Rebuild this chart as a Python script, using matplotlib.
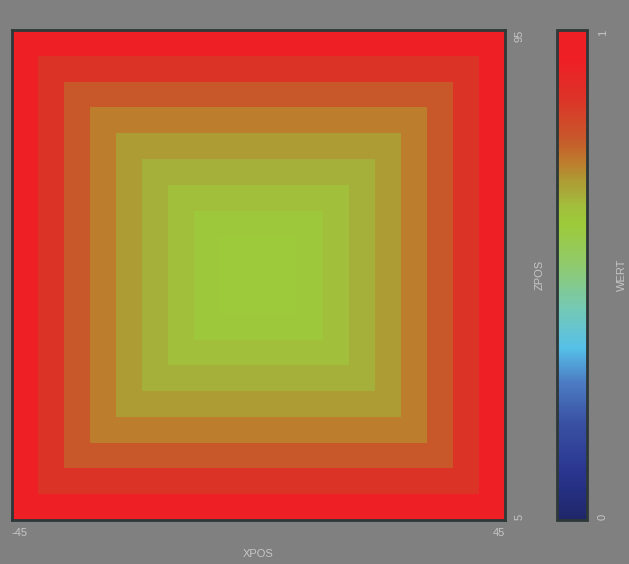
import numpy as np
import matplotlib
matplotlib.use("Agg")
import matplotlib.pyplot as plt
from matplotlib.colors import LinearSegmentedColormap

# Grid coordinates
xpos = [-45, -40, -35, -30, -25, -20, -15, -10, -5, 0, 5, 10, 15, 20, 25, 30, 35, 40, 45]
zpos = [5, 10, 15, 20, 25, 30, 35, 40, 45, 50, 55, 60, 65, 70, 75, 80, 85, 90, 95]

# Measured values (rows: zpos from 5 up to 95, columns: xpos from -45 to 45)
wert = [
    [1.00, 1.00, 1.00, 1.00, 1.00, 1.00, 1.00, 1.00, 1.00, 1.00, 1.00, 1.00, 1.00, 1.00, 1.00, 1.00, 1.00, 1.00, 1.00],
    [1.00, 0.86, 0.86, 0.86, 0.86, 0.86, 0.86, 0.86, 0.86, 0.86, 0.86, 0.86, 0.86, 0.86, 0.86, 0.86, 0.86, 0.86, 1.00],
    [1.00, 0.86, 0.78, 0.78, 0.78, 0.78, 0.78, 0.78, 0.78, 0.78, 0.78, 0.78, 0.78, 0.78, 0.78, 0.78, 0.78, 0.86, 1.00],
    [1.00, 0.86, 0.78, 0.73, 0.73, 0.73, 0.73, 0.73, 0.73, 0.73, 0.73, 0.73, 0.73, 0.73, 0.73, 0.73, 0.78, 0.86, 1.00],
    [1.00, 0.86, 0.78, 0.73, 0.69, 0.69, 0.69, 0.69, 0.69, 0.69, 0.69, 0.69, 0.69, 0.69, 0.69, 0.73, 0.78, 0.86, 1.00],
    [1.00, 0.86, 0.78, 0.73, 0.69, 0.66, 0.66, 0.66, 0.66, 0.66, 0.66, 0.66, 0.66, 0.66, 0.69, 0.73, 0.78, 0.86, 1.00],
    [1.00, 0.86, 0.78, 0.73, 0.69, 0.66, 0.64, 0.64, 0.64, 0.64, 0.64, 0.64, 0.64, 0.66, 0.69, 0.73, 0.78, 0.86, 1.00],
    [1.00, 0.86, 0.78, 0.73, 0.69, 0.66, 0.64, 0.61, 0.61, 0.61, 0.61, 0.61, 0.64, 0.66, 0.69, 0.73, 0.78, 0.86, 1.00],
    [1.00, 0.86, 0.78, 0.73, 0.69, 0.66, 0.64, 0.61, 0.60, 0.60, 0.60, 0.61, 0.64, 0.66, 0.69, 0.73, 0.78, 0.86, 1.00],
    [1.00, 0.86, 0.78, 0.73, 0.69, 0.66, 0.64, 0.61, 0.60, 0.60, 0.60, 0.61, 0.64, 0.66, 0.69, 0.73, 0.78, 0.86, 1.00],
    [1.00, 0.86, 0.78, 0.73, 0.69, 0.66, 0.64, 0.61, 0.60, 0.60, 0.60, 0.61, 0.64, 0.66, 0.69, 0.73, 0.78, 0.86, 1.00],
    [1.00, 0.86, 0.78, 0.73, 0.69, 0.66, 0.64, 0.61, 0.61, 0.61, 0.61, 0.61, 0.64, 0.66, 0.69, 0.73, 0.78, 0.86, 1.00],
    [1.00, 0.86, 0.78, 0.73, 0.69, 0.66, 0.64, 0.64, 0.64, 0.64, 0.64, 0.64, 0.64, 0.66, 0.69, 0.73, 0.78, 0.86, 1.00],
    [1.00, 0.86, 0.78, 0.73, 0.69, 0.66, 0.66, 0.66, 0.66, 0.66, 0.66, 0.66, 0.66, 0.66, 0.69, 0.73, 0.78, 0.86, 1.00],
    [1.00, 0.86, 0.78, 0.73, 0.69, 0.69, 0.69, 0.69, 0.69, 0.69, 0.69, 0.69, 0.69, 0.69, 0.69, 0.73, 0.78, 0.86, 1.00],
    [1.00, 0.86, 0.78, 0.73, 0.73, 0.73, 0.73, 0.73, 0.73, 0.73, 0.73, 0.73, 0.73, 0.73, 0.73, 0.73, 0.78, 0.86, 1.00],
    [1.00, 0.86, 0.78, 0.78, 0.78, 0.78, 0.78, 0.78, 0.78, 0.78, 0.78, 0.78, 0.78, 0.78, 0.78, 0.78, 0.78, 0.86, 1.00],
    [1.00, 0.86, 0.86, 0.86, 0.86, 0.86, 0.86, 0.86, 0.86, 0.86, 0.86, 0.86, 0.86, 0.86, 0.86, 0.86, 0.86, 0.86, 1.00],
    [1.00, 1.00, 1.00, 1.00, 1.00, 1.00, 1.00, 1.00, 1.00, 1.00, 1.00, 1.00, 1.00, 1.00, 1.00, 1.00, 1.00, 1.00, 1.00],
]

x_label = "XPOS"
z_label = "ZPOS"
c_label = "WERT"

BG = "#808080"
TXT = "#c6c6c6"
EDGE = "#2e3838"

cmap = LinearSegmentedColormap.from_list(
    "wert",
    [
        (0.00, "#1f266a"),
        (0.10, "#2a3690"),
        (0.20, "#3a52a3"),
        (0.28, "#4c7cc4"),
        (0.35, "#56c0e8"),
        (0.43, "#74c9b6"),
        (0.52, "#90ca6e"),
        (0.60, "#9dca3b"),
        (0.61, "#9dc93b"),
        (0.64, "#a2bf3c"),
        (0.66, "#a6b03a"),
        (0.69, "#ad9d34"),
        (0.73, "#bd7d2d"),
        (0.78, "#c8582b"),
        (0.86, "#dc3428"),
        (0.94, "#ee1f25"),
        (1.00, "#ee1f25"),
    ],
)

plt.rcParams["font.family"] = ["Liberation Sans", "DejaVu Sans"]

W, H = 629, 564
fig = plt.figure(figsize=(W / 100, H / 100), dpi=100, facecolor=BG)

ax = fig.add_axes([12 / W, (H - 520) / H, 493 / W, 490 / H])
ax.set_facecolor(BG)
data = np.array(wert)
dx = (xpos[1] - xpos[0]) / 2
dz = (zpos[1] - zpos[0]) / 2
extent = [xpos[0] - dx, xpos[-1] + dx, zpos[0] - dz, zpos[-1] + dz]
im = ax.imshow(data, cmap=cmap, vmin=0, vmax=1, origin="lower",
               extent=extent, aspect="auto", interpolation="nearest")

for s in ax.spines.values():
    s.set_color(EDGE)
    s.set_linewidth(2)

fs = 8
ax.set_xticks([extent[0], extent[1]])
ax.set_xticklabels([str(xpos[0]), str(xpos[-1])])
ax.tick_params(axis="x", length=0, pad=6, labelsize=fs, labelcolor=TXT)
xl = ax.get_xticklabels()
xl[0].set_ha("left")
xl[1].set_ha("right")

ax.yaxis.tick_right()
ax.set_yticks([extent[2], extent[3]])
ax.set_yticklabels([str(zpos[0]), str(zpos[-1])], rotation=90)
ax.tick_params(axis="y", length=0, pad=7, labelsize=fs, labelcolor=TXT)
yl = ax.get_yticklabels()
yl[0].set_va("bottom")
yl[1].set_va("top")

ax.set_xlabel(x_label, color=TXT, fontsize=fs)
ax.xaxis.set_label_coords(0.5, -0.06)
ax.yaxis.set_label_position("right")
ax.set_ylabel(z_label, color=TXT, fontsize=fs, rotation=90)
ax.yaxis.set_label_coords(1.061, 0.5)

cax = fig.add_axes([557 / W, (H - 520) / H, 30 / W, 490 / H])
cb = fig.colorbar(im, cax=cax)
cb.outline.set_edgecolor(EDGE)
cb.outline.set_linewidth(2)
cb.set_ticks([0, 1])
cb.set_ticklabels(["0", "1"])
cax.tick_params(length=0, pad=8, labelsize=fs, labelcolor=TXT)
for lab in cax.get_yticklabels():
    lab.set_rotation(90)
cl = cax.get_yticklabels()
cl[0].set_va("bottom")
cl[1].set_va("top")
cb.set_label(c_label, color=TXT, fontsize=fs, rotation=90)
cax.yaxis.set_label_coords(2.0, 0.5)

fig.savefig("out.png", dpi=100, facecolor=BG)
